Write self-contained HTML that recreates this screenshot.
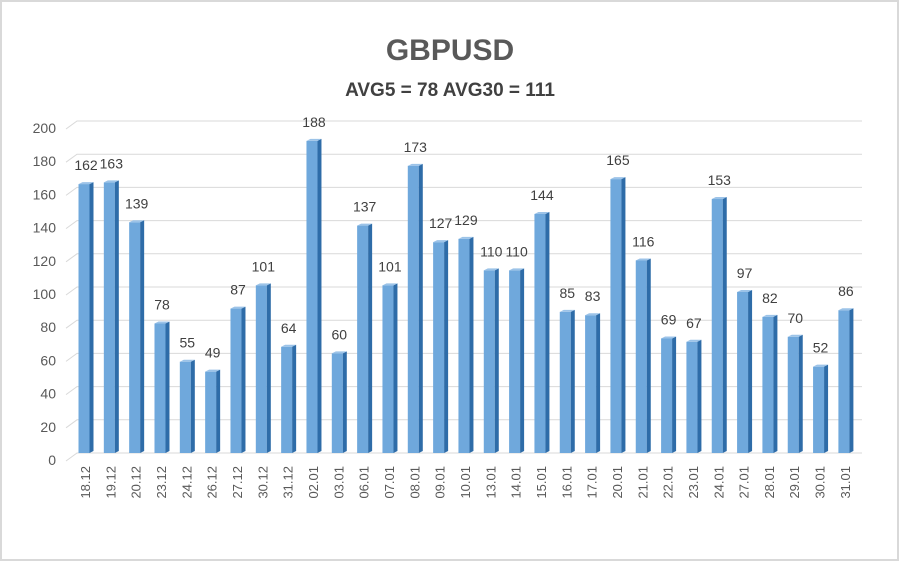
<!DOCTYPE html>
<html><head><meta charset="utf-8"><style>
body{margin:0;background:#fff;font-family:"Liberation Sans",sans-serif;}
svg text{font-family:"Liberation Sans",sans-serif;}
</style></head><body>
<svg width="900" height="562" viewBox="0 0 900 562">
<rect x="1" y="1" width="897" height="559" fill="#fff" stroke="#d9d9d9" stroke-width="2"/>
<text x="450" y="60" text-anchor="middle" font-size="30" font-weight="bold" fill="#595959">GBPUSD</text>
<text x="450" y="96" text-anchor="middle" font-size="19" font-weight="bold" fill="#404040">AVG5 = 78 AVG30 = 111</text>
<g id="grid"></g><g id="bars"></g><g id="labels"></g>
</svg>
<script>
const categories=["18.12","19.12","20.12","23.12","24.12","26.12","27.12","30.12","31.12","02.01","03.01","06.01","07.01","08.01","09.01","10.01","13.01","14.01","15.01","16.01","17.01","20.01","21.01","22.01","23.01","24.01","27.01","28.01","29.01","30.01","31.01"];
const values=[162,163,139,78,55,49,87,101,64,188,60,137,101,173,127,129,110,110,144,85,83,165,116,69,67,153,97,82,70,52,86];
const yTicks=[0,20,40,60,80,100,120,140,160,180,200];
const NS="http://www.w3.org/2000/svg";
const y0=453,yTop=121,yMax=200,x0=85,dx=25.33;
const y=v=>y0-(y0-yTop)*v/yMax;
const x=i=>x0+i*dx;
function mk(tag,attrs,parent){const e=document.createElementNS(NS,tag);for(const k in attrs)e.setAttribute(k,attrs[k]);document.getElementById(parent).appendChild(e);return e;}
yTicks.forEach(t=>{
 const yy=y(t);
 const l=mk('path',{d:`M66 ${yy+8} L77 ${yy} L862 ${yy}`,fill:'none',stroke:'#d9d9d9','stroke-width':1},'grid');
 
 
 const tx=mk('text',{x:56,y:yy+12,'text-anchor':'end','font-size':14,fill:'#595959'},'grid');
 tx.textContent=t;
 
 
});
values.forEach((v,i)=>{
 const cx=x(i),top=y(v),w=11;
 const g=mk('g',{},'bars');
 
 
 const f=document.createElementNS(NS,'rect');
 f.setAttribute('x',cx-w/2-1);f.setAttribute('y',top);f.setAttribute('width',w);f.setAttribute('height',y0-top);f.setAttribute('fill','#6fa8dc');
 g.appendChild(f);
 const s=document.createElementNS(NS,'path');
 s.setAttribute('d',`M${cx+w/2-1} ${top} L${cx+w/2+3} ${top-2} L${cx+w/2+3} ${y0-2} L${cx+w/2-1} ${y0} Z`);s.setAttribute('fill','#2e6ca8');
 g.appendChild(s);
 const tp=document.createElementNS(NS,'path');
 tp.setAttribute('d',`M${cx-w/2-1} ${top} L${cx-w/2+3} ${top-2} L${cx+w/2+3} ${top-2} L${cx+w/2-1} ${top} Z`);tp.setAttribute('fill','#9cc3e8');
 g.appendChild(tp);
 const vt=mk('text',{x:cx+1,y:top-14,'text-anchor':'middle','font-size':14,fill:'#404040'},'labels');
 vt.textContent=v;
 
 
 const ct=mk('text',{transform:`translate(${cx+5},${466}) rotate(-90)`,'text-anchor':'end','font-size':13,fill:'#595959'},'labels');
 ct.textContent=categories[i];
 
 
});
</script>
</body></html>
